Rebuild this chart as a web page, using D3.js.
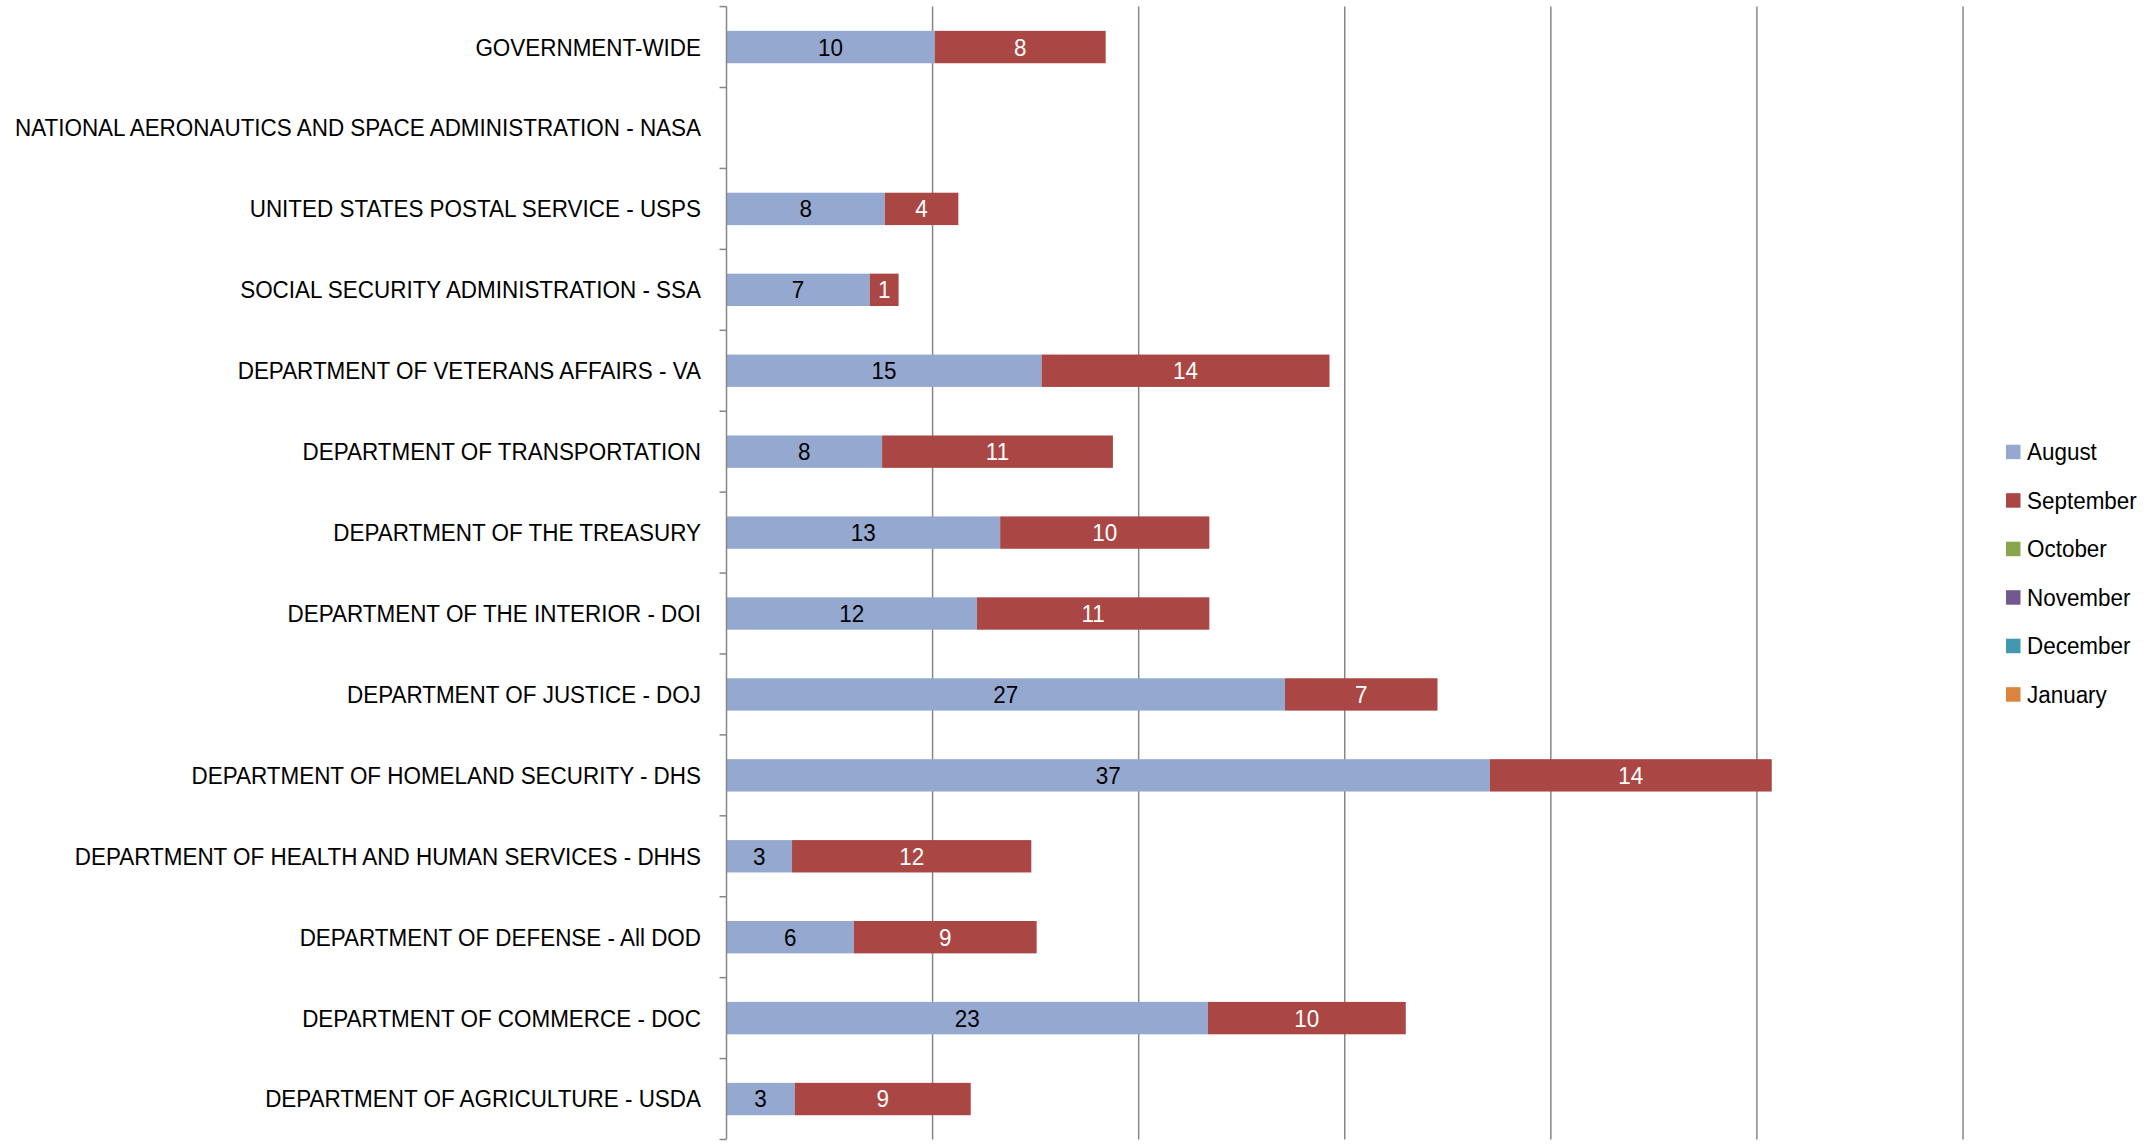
<!DOCTYPE html>
<html>
<head>
<meta charset="utf-8">
<script src="https://cdn.jsdelivr.net/npm/d3@7"></script>
<style>
  html, body { margin: 0; padding: 0; background: #fff; }
  svg { display: block; }
  text { font-family: "Liberation Sans Narrow", "Liberation Sans", Arial, sans-serif; }
</style>
</head>
<body>
<svg id="chart" width="2156" height="1144"></svg>
<script>
const categories = [
  "GOVERNMENT-WIDE",
  "NATIONAL AERONAUTICS AND SPACE ADMINISTRATION - NASA",
  "UNITED STATES POSTAL SERVICE - USPS",
  "SOCIAL SECURITY ADMINISTRATION - SSA",
  "DEPARTMENT OF VETERANS AFFAIRS - VA",
  "DEPARTMENT OF TRANSPORTATION",
  "DEPARTMENT OF THE TREASURY",
  "DEPARTMENT OF THE INTERIOR - DOI",
  "DEPARTMENT OF JUSTICE - DOJ",
  "DEPARTMENT OF HOMELAND SECURITY - DHS",
  "DEPARTMENT OF HEALTH AND HUMAN SERVICES - DHHS",
  "DEPARTMENT OF DEFENSE - All DOD",
  "DEPARTMENT OF COMMERCE - DOC",
  "DEPARTMENT OF AGRICULTURE - USDA"
];
const seriesNames = ["August", "September", "October", "November", "December", "January"];
const seriesColors = ["#95A9D0", "#AA4643", "#89A54E", "#71588F", "#4198AF", "#DB843D"];
const labelColors = ["#000", "#fff", "#fff", "#fff", "#fff", "#fff"];

const august    = [10.1, 0, 7.68, 6.95, 15.29, 7.55, 13.28, 12.15, 27.1, 37.04, 3.18, 6.18, 23.36, 3.31];
const september = [8.3, 0, 3.57, 1.4, 13.97, 11.2, 10.15, 11.28, 7.4, 13.68, 11.61, 8.87, 9.6, 8.54];
const october   = [0, 0, 0, 0, 0, 0, 0, 0, 0, 0, 0, 0, 0, 0];
const november  = [0, 0, 0, 0, 0, 0, 0, 0, 0, 0, 0, 0, 0, 0];
const december  = [0, 0, 0, 0, 0, 0, 0, 0, 0, 0, 0, 0, 0, 0];
const january   = [0, 0, 0, 0, 0, 0, 0, 0, 0, 0, 0, 0, 0, 0];
const xTicks = [0, 10, 20, 30, 40, 50, 60];

const seriesValues = [august, september, october, november, december, january];

const rows = categories.map((c, i) => {
  const r = { category: c };
  seriesNames.forEach((s, k) => r[s] = seriesValues[k][i]);
  return r;
});
const stacked = d3.stack().keys(seriesNames)(rows);

const svg = d3.select("#chart");
const plot = { left: 726.5, right: 1963, top: 6.6, bottom: 1139.5 };
const x = d3.scaleLinear().domain([0, 60]).range([plot.left, plot.right]);
const y = d3.scaleBand().domain(categories).range([plot.top, plot.bottom])
  .paddingInner(0.6).paddingOuter(0.3);
const fontSize = 23.5;

// vertical gridlines
svg.append("g").selectAll("line").data(xTicks.slice(1)).join("line")
  .attr("x1", d => x(d)).attr("x2", d => x(d))
  .attr("y1", plot.top).attr("y2", plot.bottom)
  .attr("stroke", "#868686").attr("stroke-width", 1.5);

// bars
const g = svg.append("g");
stacked.forEach((layer, k) => {
  g.append("g").selectAll("rect").data(layer).join("rect")
    .attr("x", d => x(d[0]))
    .attr("width", d => Math.max(0, x(d[1]) - x(d[0])))
    .attr("y", d => y(d.data.category))
    .attr("height", y.bandwidth())
    .attr("fill", seriesColors[k]);
  g.append("g").selectAll("text").data(layer.filter(d => d[1] - d[0] > 0)).join("text")
    .attr("class", "lbl")
    .attr("x", d => (x(d[0]) + x(d[1])) / 2)
    .attr("y", d => y(d.data.category) + y.bandwidth() / 2)
    .attr("dy", "0.36em")
    .attr("text-anchor", "middle")
    .attr("font-size", fontSize)
    .attr("fill", labelColors[k])
    .text(d => d3.format(".0f")(d[1] - d[0]));
});

// y axis line and ticks at band boundaries
const step = y.step();
const bounds = d3.range(categories.length + 1).map(i => plot.top + i * step);
svg.append("line")
  .attr("x1", plot.left).attr("x2", plot.left)
  .attr("y1", plot.top).attr("y2", plot.bottom)
  .attr("stroke", "#868686").attr("stroke-width", 1.5);
svg.append("g").selectAll("line").data(bounds).join("line")
  .attr("x1", plot.left - 7).attr("x2", plot.left)
  .attr("y1", d => d).attr("y2", d => d)
  .attr("stroke", "#868686").attr("stroke-width", 1.5);

// category labels
svg.append("g").selectAll("text").data(categories).join("text")
  .attr("class", "lbl")
  .attr("x", 701)
  .attr("y", d => y(d) + y.bandwidth() / 2)
  .attr("dy", "0.36em")
  .attr("text-anchor", "end")
  .attr("font-size", fontSize)
  .attr("fill", "#000")
  .text(d => d);

// legend
const legend = svg.append("g").selectAll("g").data(seriesNames).join("g")
  .attr("transform", (d, i) => `translate(2006, ${452 + i * 48.5})`);
legend.append("rect")
  .attr("x", 0).attr("y", -7.3).attr("width", 14.5).attr("height", 14.5)
  .attr("fill", (d, i) => seriesColors[i]);
legend.append("text")
  .attr("class", "lbl")
  .attr("x", 21).attr("y", 0).attr("dy", "0.36em")
  .attr("font-size", fontSize)
  .attr("fill", "#000")
  .text(d => d);

// condense glyphs horizontally so the longest category label spans ~686px like the reference
const longest = svg.selectAll("text.lbl").filter(d => d === categories[1]).node();
const factor = Math.min(1, 686 / longest.getComputedTextLength());
svg.selectAll("text.lbl").each(function () {
  const w = this.getComputedTextLength();
  d3.select(this).attr("textLength", w * factor).attr("lengthAdjust", "spacingAndGlyphs");
});
</script>
</body>
</html>
